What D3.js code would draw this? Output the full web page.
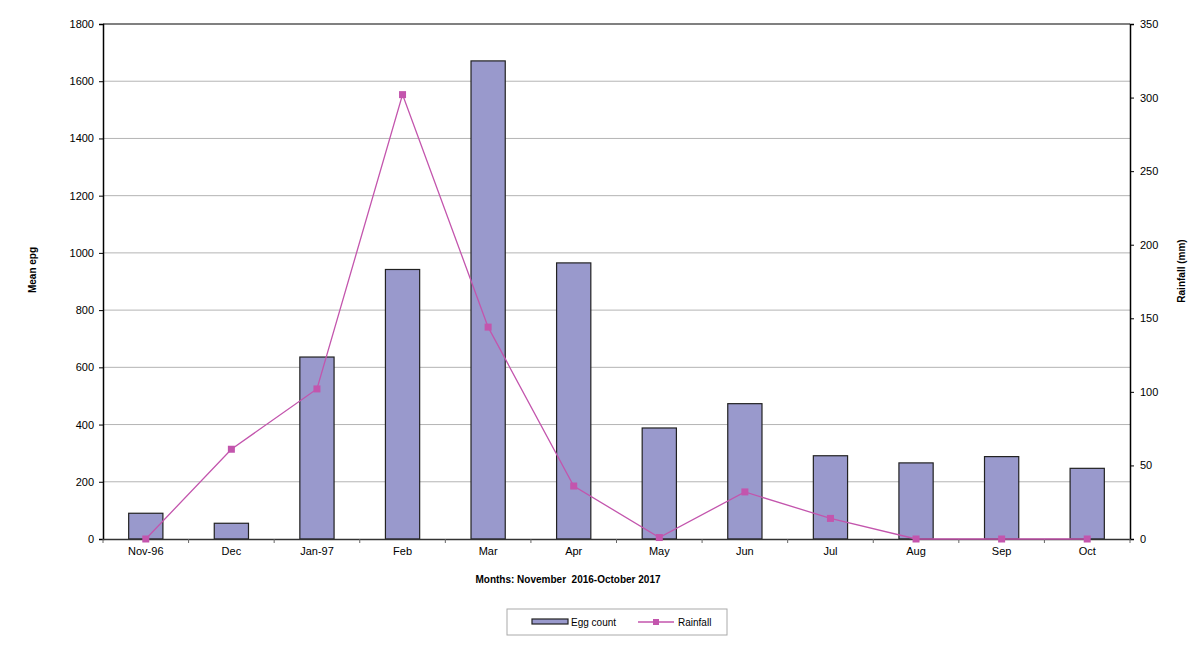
<!DOCTYPE html>
<html>
<head>
<meta charset="utf-8">
<script src="https://cdn.jsdelivr.net/npm/d3@7"></script>
<style>
  body { margin: 0; background: #fff; }
  text { font-family: "Liberation Sans", Arial, sans-serif; fill: #000; }
</style>
</head>
<body>
<script>
"use strict";

// months along the x axis
var months = ["Nov-96", "Dec", "Jan-97", "Feb", "Mar", "Apr", "May", "Jun", "Jul", "Aug", "Sep", "Oct"];
// mean eggs per gram (left axis)
var eggCount = [90, 55, 636, 942, 1671, 965, 388, 473, 291, 266, 288, 247];
// rainfall in mm (right axis)
var rainfall = [0, 61, 102, 302, 144, 36, 1, 32, 14, 0, 0, 0];

var leftTicks = [0, 200, 400, 600, 800, 1000, 1200, 1400, 1600, 1800];
var rightTicks = [0, 50, 100, 150, 200, 250, 300, 350];

window.onload = function() {
  var width = 1200, height = 647;
  var left = 103, right = 1130, top = 24, bottom = 539;

  var svg = d3.select("body").append("svg")
      .attr("width", width)
      .attr("height", height);

  var x = d3.scaleBand().domain(months).range([left, right]);
  var yL = d3.scaleLinear().domain([0, 1800]).range([bottom, top]);
  var yR = d3.scaleLinear().domain([0, 350]).range([bottom, top]);

  // gridlines
  svg.append("g").selectAll("line")
      .data(leftTicks.slice(1, -1))
      .join("line")
      .attr("x1", left).attr("x2", right)
      .attr("y1", d => yL(d)).attr("y2", d => yL(d))
      .style("stroke", "#b4b4b4")
      .style("stroke-width", 1);

  // top border
  svg.append("line")
      .attr("x1", left).attr("x2", right)
      .attr("y1", top).attr("y2", top)
      .style("stroke", "#808080")
      .style("stroke-width", 2);

  // bars
  var bw = x.bandwidth() * 0.4;
  svg.append("g").selectAll("rect")
      .data(eggCount)
      .join("rect")
      .attr("x", (d, i) => x(months[i]) + x.bandwidth() / 2 - bw / 2)
      .attr("y", d => yL(d))
      .attr("width", bw)
      .attr("height", d => bottom - yL(d))
      .style("fill", "#9999cc")
      .style("stroke", "#222")
      .style("stroke-width", 1.2);

  // left axis
  var axL = svg.append("g")
      .attr("transform", "translate(" + left + ",0)")
      .call(d3.axisLeft(yL).tickValues(leftTicks).tickSize(4).tickPadding(5).tickFormat(d3.format("d")));
  axL.select(".domain").style("stroke", "#000").style("stroke-width", 1.5);
  axL.selectAll("text").style("font-size", "11px");

  // right axis
  var axR = svg.append("g")
      .attr("transform", "translate(" + right + ",0)")
      .call(d3.axisRight(yR).tickValues(rightTicks).tickSize(4).tickPadding(6));
  axR.select(".domain").style("stroke", "#000").style("stroke-width", 1.5);
  axR.selectAll("text").style("font-size", "11px");

  // bottom axis
  var axB = svg.append("g")
      .attr("transform", "translate(0," + bottom + ")")
      .call(d3.axisBottom(x).tickSize(0).tickPadding(8));
  axB.select(".domain").style("stroke", "#333").style("stroke-width", 1.5);
  axB.selectAll("text").style("font-size", "11px");
  // ticks between categories
  axB.append("g").selectAll("line")
      .data(months.slice(1).concat(["end"]))
      .join("line")
      .attr("x1", (d, i) => i < months.length - 1 ? x(d) : right)
      .attr("x2", (d, i) => i < months.length - 1 ? x(d) : right)
      .attr("y1", 0).attr("y2", 4)
      .style("stroke", "#666");
  axB.append("line").attr("x1", left).attr("x2", left).attr("y1", 0).attr("y2", 4).style("stroke", "#666");

  // rainfall line
  var line = d3.line()
      .x((d, i) => x(months[i]) + x.bandwidth() / 2)
      .y(d => yR(d));
  svg.append("path")
      .datum(rainfall)
      .attr("d", line)
      .style("fill", "none")
      .style("stroke", "#c355ad")
      .style("stroke-width", 1.3);
  svg.append("g").selectAll("rect")
      .data(rainfall)
      .join("rect")
      .attr("x", (d, i) => x(months[i]) + x.bandwidth() / 2 - 3.5)
      .attr("y", d => yR(d) - 3.5)
      .attr("width", 7).attr("height", 7)
      .style("fill", "#c355ad");

  // axis titles
  svg.append("text")
      .attr("transform", "translate(36,270) rotate(-90)")
      .attr("text-anchor", "middle")
      .style("font-size", "10px").style("font-weight", "bold")
      .text("Mean epg");
  svg.append("text")
      .attr("transform", "translate(1185,271) rotate(-90)")
      .attr("text-anchor", "middle")
      .style("font-size", "10px").style("font-weight", "bold")
      .text("Rainfall (mm)");
  svg.append("text")
      .attr("x", 568).attr("y", 583)
      .attr("text-anchor", "middle")
      .style("font-size", "10px").style("font-weight", "bold")
      .style("white-space", "pre")
      .text("Months: November  2016-October 2017");

  // legend
  var lg = svg.append("g").attr("transform", "translate(507,609)");
  lg.append("rect")
      .attr("width", 220).attr("height", 26)
      .style("fill", "#fff").style("stroke", "#aaa");
  lg.append("rect")
      .attr("x", 25).attr("y", 10).attr("width", 36).attr("height", 5)
      .style("fill", "#9999cc").style("stroke", "#222").style("stroke-width", 1.2);
  lg.append("text").attr("x", 64).attr("y", 17).style("font-size", "10px").text("Egg count");
  lg.append("line")
      .attr("x1", 131).attr("x2", 167).attr("y1", 13).attr("y2", 13)
      .style("stroke", "#c355ad").style("stroke-width", 1.3);
  lg.append("rect")
      .attr("x", 146).attr("y", 10).attr("width", 6).attr("height", 6)
      .style("fill", "#c355ad");
  lg.append("text").attr("x", 171).attr("y", 17).style("font-size", "10px").text("Rainfall");
};
</script>
</body>
</html>
